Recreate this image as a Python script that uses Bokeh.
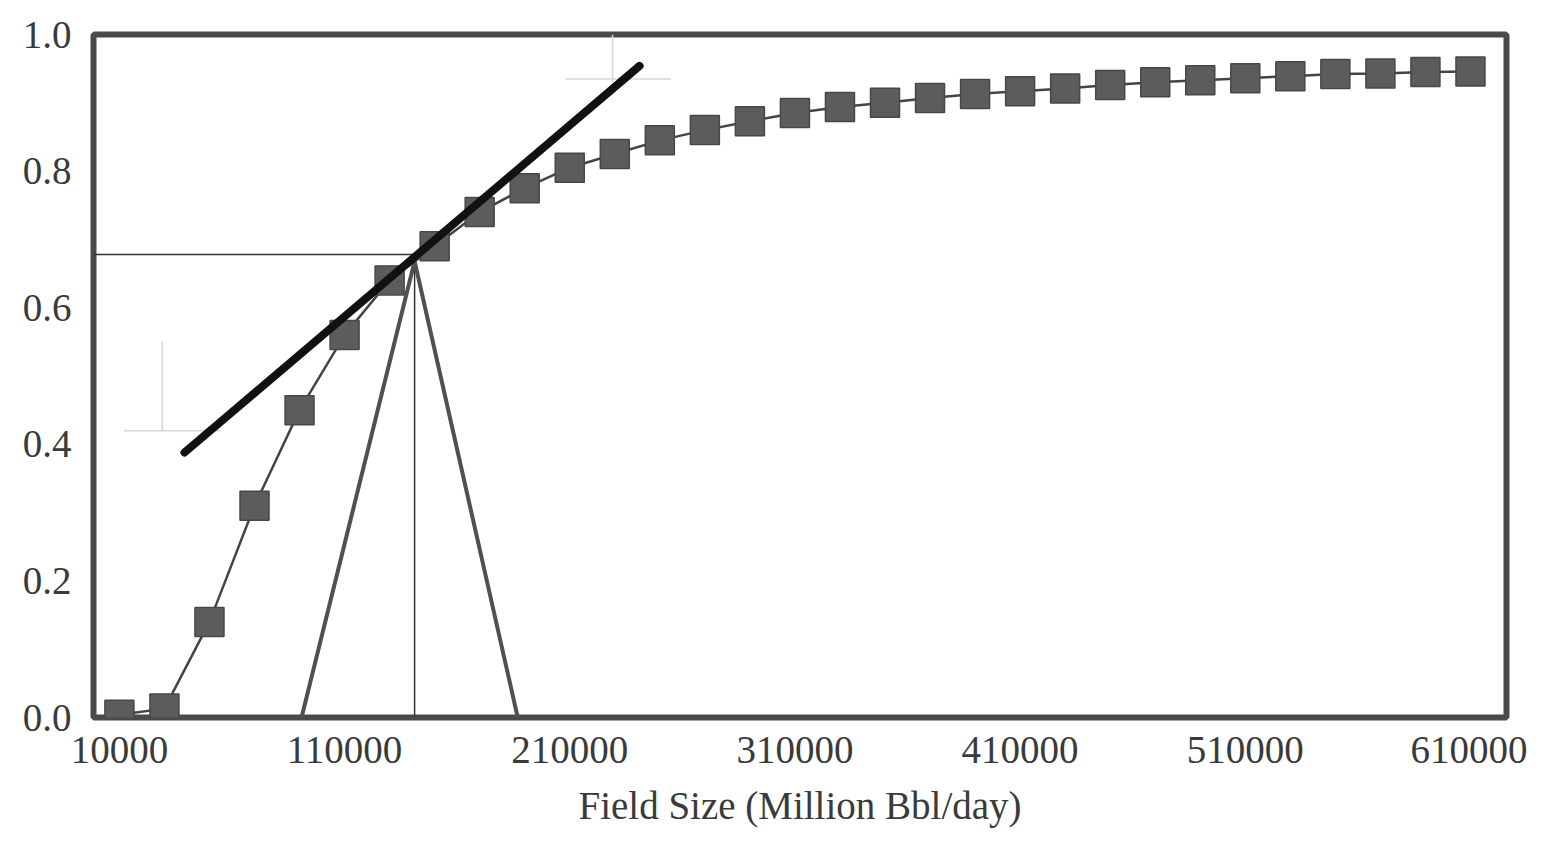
from bokeh.plotting import figure
from bokeh.models import Range1d, FixedTicker
from bokeh.embed import file_html
from bokeh.resources import INLINE

# data
field_size = [10000, 30000, 50000, 70000, 90000, 110000, 130000, 150000, 170000, 190000,
              210000, 230000, 250000, 270000, 290000, 310000, 330000, 350000, 370000, 390000,
              410000, 430000, 450000, 470000, 490000, 510000, 530000, 550000, 570000, 590000, 610000]
prob = [0.004, 0.013, 0.14, 0.31, 0.45, 0.56, 0.64, 0.69, 0.74, 0.775,
        0.805, 0.825, 0.845, 0.86, 0.873, 0.885, 0.894, 0.90, 0.907, 0.913,
        0.917, 0.921, 0.926, 0.93, 0.933, 0.936, 0.939, 0.942, 0.943, 0.945, 0.946]
tangent_x = [38900, 241000]
tangent_y = [0.388, 0.954]
tri_x = [90900, 141100, 186900]
tri_y = [0.0, 0.668, 0.0]
ref_x = 141100
ref_y = 0.678
x_ticks = [10000, 110000, 210000, 310000, 410000, 510000, 610000]
y_ticks = [0.0, 0.2, 0.4, 0.6, 0.8, 1.0]
x_title = "Field Size (Million Bbl/day)"
handle1_x = [29000, 29000]
handle1_y = [0.55, 0.42]
handle1h_x = [12000, 55000]
handle1h_y = [0.42, 0.42]
handle2_x = [229000, 229000]
handle2_y = [1.0, 0.93]
handle2h_x = [208000, 255000]
handle2h_y = [0.935, 0.935]

p = figure(width=1527, height=832, output_backend="svg", toolbar_location=None,
           x_range=Range1d(-1500, 626000), y_range=Range1d(0.0, 1.0),
           min_border_left=93, min_border_right=21, min_border_top=34, min_border_bottom=115)
p.grid.visible = False
p.outline_line_color = "#4a4a4a"
p.outline_line_width = 6
p.background_fill_color = "white"
p.border_fill_color = "white"

for ax in (p.xaxis, p.yaxis):
    ax.axis_line_color = None
    ax.major_tick_line_color = None
    ax.minor_tick_line_color = None
    ax.major_label_text_font = "Liberation Serif"
    ax.major_label_text_font_size = "39px"
    ax.major_label_text_color = "#3a3a3a"

p.xaxis.ticker = FixedTicker(ticks=x_ticks)
p.yaxis.ticker = FixedTicker(ticks=y_ticks)
p.xaxis.major_label_overrides = {t: str(t) for t in x_ticks}
p.yaxis.major_label_overrides = {t: f"{t:.1f}" for t in y_ticks}
p.xaxis.major_label_standoff = 13
p.yaxis.major_label_standoff = 16
p.xaxis.axis_label = x_title
p.xaxis.axis_label_text_font = "Liberation Serif"
p.xaxis.axis_label_text_font_size = "39px"
p.xaxis.axis_label_text_font_style = "normal"
p.xaxis.axis_label_text_color = "#3a3a3a"
p.xaxis.axis_label_standoff = 18

# faint handles
for hx, hy in ((handle1_x, handle1_y), (handle1h_x, handle1h_y), (handle2_x, handle2_y), (handle2h_x, handle2h_y)):
    p.line(hx, hy, line_color="#d6d6d6", line_width=1.5)

# reference lines
p.line([-1500, ref_x], [ref_y, ref_y], line_color="#333333", line_width=1.5)
p.line([ref_x, ref_x], [0, ref_y], line_color="#333333", line_width=1.5)

# triangle
p.line(tri_x, tri_y, line_color="#505050", line_width=4)

# curve
p.line(field_size, prob, line_color="#444444", line_width=2.5)
p.scatter(field_size, prob, marker="square", size=29, fill_color="#5c5c5c",
          line_color="#474747", line_width=1.5)

# tangent line
p.line(tangent_x, tangent_y, line_color="#111111", line_width=8, line_cap="round")

open("out.html", "w").write(file_html(p, INLINE))
